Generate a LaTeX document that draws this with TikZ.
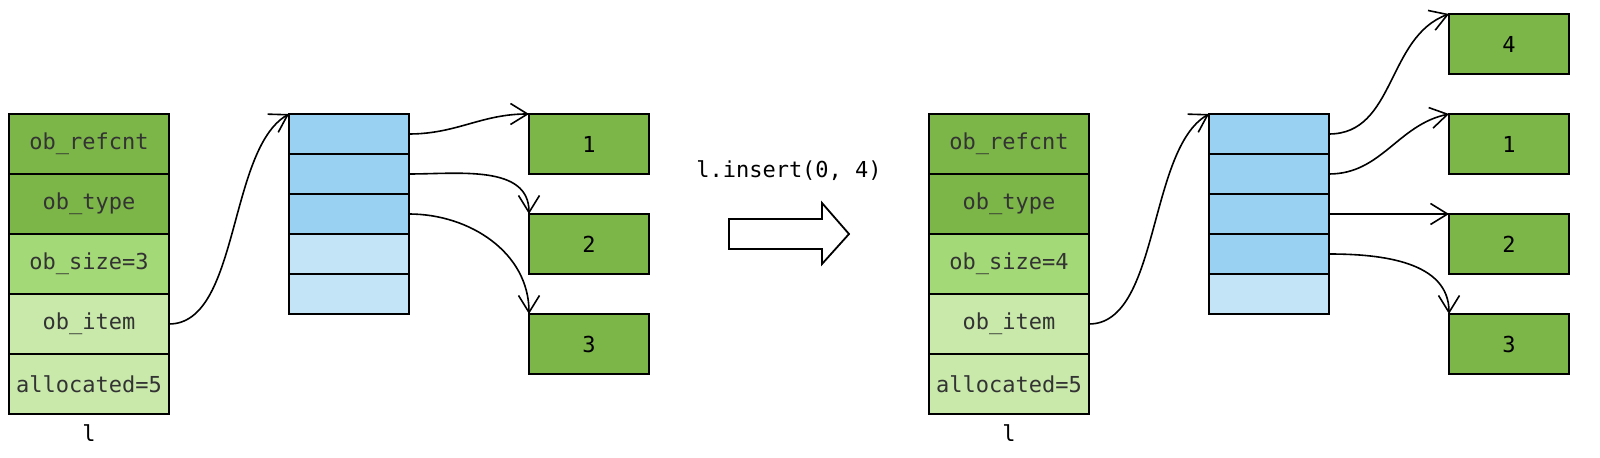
\documentclass[tikz,border=0pt]{standalone}
\usepackage{fontspec}
\setmonofont{DejaVu Sans Mono}
\usepackage{xcolor}
\usetikzlibrary{arrows.meta,positioning}

\definecolor{darkgreen}{HTML}{7CB548}
\definecolor{midgreen}{HTML}{A3D976}
\definecolor{lightgreen}{HTML}{C8E9AA}
\definecolor{darkblue}{HTML}{99D1F2}
\definecolor{lightblue}{HTML}{C2E4F6}

\begin{document}
\begin{tikzpicture}[
    x=0.5pt, y=0.5pt,
    field/.style={rectangle, draw, line width=0.9pt, outer sep=0pt, minimum width=80pt, minimum height=30pt, font=\ttfamily\fontsize{11}{13}\selectfont, text=black!80},
    cell/.style={rectangle, draw, line width=0.9pt, outer sep=0pt, minimum width=60pt, minimum height=20pt, fill=darkblue},
    item/.style={rectangle, draw, line width=0.9pt, outer sep=0pt, fill=darkgreen, minimum width=60pt, minimum height=30pt, font=\ttfamily\fontsize{11}{13}\selectfont},
    arrow/.style={-{Straight Barb[length=8.5pt,width=10.5pt]}, line width=0.8pt},
    label/.style={font=\ttfamily\fontsize{11}{13}\selectfont}
]
\useasboundingbox (0,0) rectangle (1600,-458);

% List object before insert
\node[field, fill=darkgreen] (lrefcnt) at (89,-144) {ob\_refcnt};
\node[field, fill=darkgreen, below=0pt of lrefcnt] (ltype) {ob\_type};
\node[field, fill=midgreen, below=0pt of ltype] (lsize) {ob\_size=3};
\node[field, fill=lightgreen, below=0pt of lsize] (litem) {ob\_item};
\node[field, fill=lightgreen, below=0pt of litem] (lalloc) {allocated=5};
\node[label, below=2pt of lalloc] (lname) {l};

% Item array before insert
\node[cell] (la1) at (349,-134) {};
\node[cell, below=0pt of la1] (la2) {};
\node[cell, below=0pt of la2] (la3) {};
\node[cell, fill=lightblue, below=0pt of la3] (la4) {};
\node[cell, fill=lightblue, below=0pt of la4] (la5) {};

% Objects before insert
\node[item] (lone) at (589,-144) {1};
\node[item, below=20pt of lone] (ltwo) {2};
\node[item, below=20pt of ltwo] (lthree) {3};

% Operation
\node[label] (op) at (789,-171) {l.insert(0, 4)};
\draw[line width=0.9pt, fill=white] (729,-219) -- (822,-219) -- (822,-203) -- (849,-234)
    -- (822,-264) -- (822,-249) -- (729,-249) -- cycle;

% List object after insert
\node[field, fill=darkgreen] (rrefcnt) at (1009,-144) {ob\_refcnt};
\node[field, fill=darkgreen, below=0pt of rrefcnt] (rtype) {ob\_type};
\node[field, fill=midgreen, below=0pt of rtype] (rsize) {ob\_size=4};
\node[field, fill=lightgreen, below=0pt of rsize] (ritem) {ob\_item};
\node[field, fill=lightgreen, below=0pt of ritem] (ralloc) {allocated=5};
\node[label, below=2pt of ralloc] (rname) {l};

% Item array after insert
\node[cell] (ra1) at (1269,-134) {};
\node[cell, below=0pt of ra1] (ra2) {};
\node[cell, below=0pt of ra2] (ra3) {};
\node[cell, below=0pt of ra3] (ra4) {};
\node[cell, fill=lightblue, below=0pt of ra4] (ra5) {};

% Objects after insert
\node[item] (rfour) at (1509,-44) {4};
\node[item, below=20pt of rfour] (rone) {1};
\node[item, below=20pt of rone] (rtwo) {2};
\node[item, below=20pt of rtwo] (rthree) {3};

% Pointers before insert
\draw[arrow] (litem.east) to[out=0, in=210, looseness=0.75] (la1.north west);
\draw[arrow] (la1.east) to[out=0, in=180] (lone.north west);
\draw[arrow] (la2.east) to[out=0, in=90] (ltwo.north west);
\draw[arrow] (la3.east) to[out=0, in=90] (lthree.north west);

% Pointers after insert
\draw[arrow] (ritem.east) to[out=0, in=210, looseness=0.75] (ra1.north west);
\draw[arrow] (ra1.east) to[out=0, in=200] (rfour.north west);
\draw[arrow] (ra2.east) to[out=0, in=192] (rone.north west);
\draw[arrow] (ra3.east) -- (rtwo.north west);
\draw[arrow] (ra4.east) to[out=0, in=90] (rthree.north west);

\end{tikzpicture}
\end{document}
